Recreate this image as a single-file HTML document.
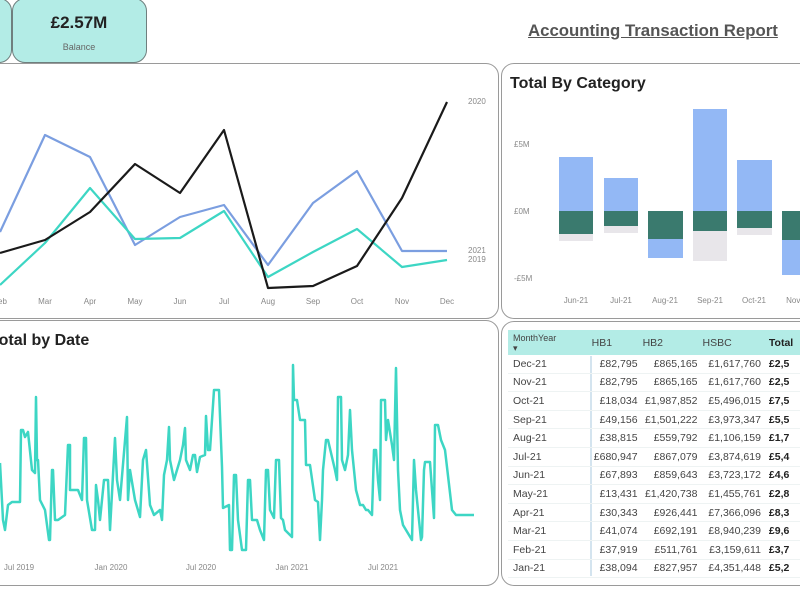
<!DOCTYPE html>
<html><head><meta charset="utf-8"><style>
body{margin:0;width:800px;height:600px;overflow:hidden;background:#fff;font-family:"Liberation Sans",sans-serif;position:relative}
.card{position:absolute;background:#b3ece6;border:1px solid #6f7f7e;border-radius:13px}
.panel{position:absolute;border:1.5px solid #9a9a9a;border-radius:13px;background:#fff}
svg{position:absolute;left:0;top:0}
table{position:absolute;left:508px;top:330px;border-collapse:collapse;font-size:10.5px;color:#444;table-layout:fixed}
td{height:17.6px;line-height:12px;padding:0;border-bottom:1px solid #eef3f3;white-space:nowrap;overflow:hidden}
th{font-weight:normal;text-align:left;height:25px;background:#b3ece6;padding:0;color:#444}
</style></head><body>
<div class="card" style="left:-30px;top:-2px;width:40px;height:63px"></div>
<div class="card" style="left:12px;top:-2px;width:133px;height:63px"></div>
<div style="position:absolute;left:12px;top:13px;width:134px;text-align:center;font-weight:bold;font-size:17px;color:#222">£2.57M</div>
<div style="position:absolute;left:12px;top:42px;width:134px;text-align:center;font-size:9px;color:#666">Balance</div>
<div style="position:absolute;left:528px;top:21px;font-size:16.8px;font-weight:bold;color:#555;text-decoration:underline">Accounting Transaction Report</div>
<div class="panel" style="left:-20px;top:63px;width:517px;height:254px"></div>
<div class="panel" style="left:501px;top:63px;width:320px;height:254px"></div>
<div class="panel" style="left:-20px;top:320px;width:517px;height:264px"></div>
<div class="panel" style="left:501px;top:321px;width:320px;height:263px"></div>
<svg width="800" height="600" font-family="Liberation Sans,sans-serif">
<g fill="none" stroke-width="2.2" stroke-linejoin="round">
<polyline stroke="#7b9ee0" points="0,232 45,135 90,157 135,245 180,217 224,205 268,265 313,203 357,171 402,251 447,251"/>
<polyline stroke="#3dd6c4" points="0,285 45,243 90,188 135,239 180,238 224,211 268,277 313,252 357,229 402,267 447,260"/>
<polyline stroke="#1a1a1a" points="0,253 45,240 90,212 135,164 180,193 224,130 268,288 313,286 357,266 402,198 447,102"/>
</g>
<g font-size="8" fill="#888" text-anchor="middle">
<text x="0" y="304">Feb</text><text x="45" y="304">Mar</text><text x="90" y="304">Apr</text><text x="135" y="304">May</text><text x="180" y="304">Jun</text><text x="224" y="304">Jul</text><text x="268" y="304">Aug</text><text x="313" y="304">Sep</text><text x="357" y="304">Oct</text><text x="402" y="304">Nov</text><text x="447" y="304">Dec</text>
</g>
<g font-size="8" fill="#888"><text x="468" y="104">2020</text><text x="468" y="253">2021</text><text x="468" y="262">2019</text></g>
<text x="510" y="88" font-size="16" font-weight="bold" fill="#222">Total By Category</text>
<g font-size="8" fill="#888"><text x="514" y="147">£5M</text><text x="514" y="214">£0M</text><text x="514" y="281">-£5M</text></g>
<g>
<rect x="559" y="157" width="34" height="54" fill="#93b8f5"/><rect x="559" y="211" width="34" height="23" fill="#3a7a6e"/><rect x="559" y="234" width="34" height="7" fill="#e8e6ea"/>
<rect x="604" y="178" width="34" height="33" fill="#93b8f5"/><rect x="604" y="211" width="34" height="15" fill="#3a7a6e"/><rect x="604" y="226" width="34" height="7" fill="#e8e6ea"/>
<rect x="648" y="211" width="35" height="28" fill="#3a7a6e"/><rect x="648" y="239" width="35" height="19" fill="#93b8f5"/>
<rect x="693" y="109" width="34" height="102" fill="#93b8f5"/><rect x="693" y="211" width="34" height="20" fill="#3a7a6e"/><rect x="693" y="231" width="34" height="30" fill="#e8e6ea"/>
<rect x="737" y="160" width="35" height="51" fill="#93b8f5"/><rect x="737" y="211" width="35" height="17" fill="#3a7a6e"/><rect x="737" y="228" width="35" height="7" fill="#e8e6ea"/>
<rect x="782" y="211" width="30" height="29" fill="#3a7a6e"/><rect x="782" y="240" width="30" height="35" fill="#93b8f5"/>
</g>
<g font-size="8" fill="#888" text-anchor="middle"><text x="576" y="303">Jun-21</text><text x="621" y="303">Jul-21</text><text x="665" y="303">Aug-21</text><text x="710" y="303">Sep-21</text><text x="754" y="303">Oct-21</text><text x="799" y="303">Nov-21</text></g>
<text x="-10" y="345" font-size="16" font-weight="bold" fill="#222">Total by Date</text>
<polyline fill="none" stroke="#3dd6c4" stroke-width="2.5" stroke-linejoin="round" points="0,463 3,520 5,530 8,505 12,502 20,502 21,430 23,430 25,437 28,432 32,470 35,473 36,397 37,460 38,460 40,500 45,510 49,540 50,540 52,470 53,470 55,520 58,520 65,515 68,445 70,445 70,490 78,490 82,500 84,438 86,438 87,500 92,530 95,530 96,485 98,500 100,520 104,480 108,480 110,530 115,438 117,480 120,500 127,417 128,500 130,470 135,500 140,517 143,460 146,450 150,505 154,515 160,510 162,520 164,475 167,460 169,427 170,460 172,470 174,480 180,460 183,445 185,428 186,460 190,470 193,455 195,455 197,472 200,457 205,455 206,416 208,450 210,450 214,390 217,390 219,390 222,467 223,508 229,505 230,550 232,550 234,475 236,475 238,520 242,550 246,550 248,480 250,480 252,520 257,520 260,530 264,540 266,470 268,470 270,510 274,518 276,460 279,460 281,518 283,520 285,530 290,535 292,537 293,365 294,400 297,400 300,420 305,420 306,465 310,465 315,500 318,502 320,540 322,500 323,470 326,440 328,440 335,470 337,480 338,397 341,397 342,460 345,470 348,455 350,410 352,450 356,490 360,505 363,505 366,510 368,510 372,515 374,450 376,450 378,480 380,500 381,400 385,400 386,440 388,420 392,445 394,460 396,368 398,470 400,510 403,525 406,530 412,540 414,460 416,490 419,520 421,540 422,537 424,470 425,462 430,462 434,518 435,425 438,425 441,440 445,450 452,510 456,515 474,515"/>
<g font-size="8" fill="#888" text-anchor="middle"><text x="19" y="570">Jul 2019</text><text x="111" y="570">Jan 2020</text><text x="201" y="570">Jul 2020</text><text x="292" y="570">Jan 2021</text><text x="383" y="570">Jul 2021</text></g>
<line x1="591" y1="356" x2="591" y2="576" stroke="#c5dcea" stroke-width="1.5"/>
</svg>
<table>
<colgroup><col style="width:83px"><col style="width:52px"><col style="width:61px"><col style="width:65px"><col style="width:40px"></colgroup>
<tr><th style="padding-left:5px;font-size:9px;line-height:10px">MonthYear<br>▾</th><th style="padding-left:5px">HB1</th><th style="padding-left:5px">HB2</th><th style="padding-left:5px">HSBC</th><th style="padding-left:8px;font-weight:bold;color:#222">Total</th></tr>
<tr><td style="padding-left:5px">Dec-21</td><td align="right">£82,795</td><td align="right">£865,165</td><td align="right">£1,617,760</td><td style="padding-left:8px;font-weight:bold;color:#222">£2,5</td></tr>
<tr><td style="padding-left:5px">Nov-21</td><td align="right">£82,795</td><td align="right">£865,165</td><td align="right">£1,617,760</td><td style="padding-left:8px;font-weight:bold;color:#222">£2,5</td></tr>
<tr><td style="padding-left:5px">Oct-21</td><td align="right">£18,034</td><td align="right">£1,987,852</td><td align="right">£5,496,015</td><td style="padding-left:8px;font-weight:bold;color:#222">£7,5</td></tr>
<tr><td style="padding-left:5px">Sep-21</td><td align="right">£49,156</td><td align="right">£1,501,222</td><td align="right">£3,973,347</td><td style="padding-left:8px;font-weight:bold;color:#222">£5,5</td></tr>
<tr><td style="padding-left:5px">Aug-21</td><td align="right">£38,815</td><td align="right">£559,792</td><td align="right">£1,106,159</td><td style="padding-left:8px;font-weight:bold;color:#222">£1,7</td></tr>
<tr><td style="padding-left:5px">Jul-21</td><td align="right">£680,947</td><td align="right">£867,079</td><td align="right">£3,874,619</td><td style="padding-left:8px;font-weight:bold;color:#222">£5,4</td></tr>
<tr><td style="padding-left:5px">Jun-21</td><td align="right">£67,893</td><td align="right">£859,643</td><td align="right">£3,723,172</td><td style="padding-left:8px;font-weight:bold;color:#222">£4,6</td></tr>
<tr><td style="padding-left:5px">May-21</td><td align="right">£13,431</td><td align="right">£1,420,738</td><td align="right">£1,455,761</td><td style="padding-left:8px;font-weight:bold;color:#222">£2,8</td></tr>
<tr><td style="padding-left:5px">Apr-21</td><td align="right">£30,343</td><td align="right">£926,441</td><td align="right">£7,366,096</td><td style="padding-left:8px;font-weight:bold;color:#222">£8,3</td></tr>
<tr><td style="padding-left:5px">Mar-21</td><td align="right">£41,074</td><td align="right">£692,191</td><td align="right">£8,940,239</td><td style="padding-left:8px;font-weight:bold;color:#222">£9,6</td></tr>
<tr><td style="padding-left:5px">Feb-21</td><td align="right">£37,919</td><td align="right">£511,761</td><td align="right">£3,159,611</td><td style="padding-left:8px;font-weight:bold;color:#222">£3,7</td></tr>
<tr><td style="padding-left:5px">Jan-21</td><td align="right">£38,094</td><td align="right">£827,957</td><td align="right">£4,351,448</td><td style="padding-left:8px;font-weight:bold;color:#222">£5,2</td></tr>
</table>
</body></html>
